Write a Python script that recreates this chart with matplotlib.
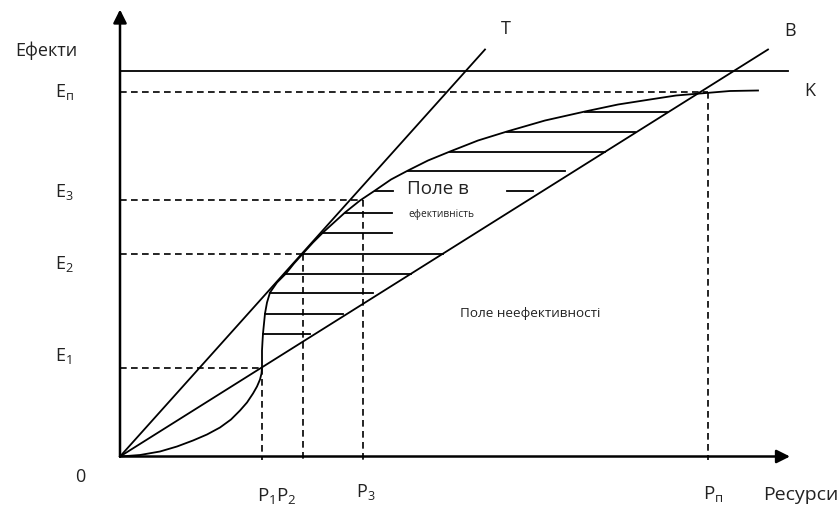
import matplotlib.pyplot as plt
import numpy as np

plt.rcParams['font.family'] = ['Open Sans', 'DejaVu Sans']
plt.rcParams['mathtext.fontset'] = 'custom'
plt.rcParams['mathtext.rm'] = 'Open Sans'

# Крива K (ефект від ресурсів)
k_x = [0, 20, 40, 57, 73, 87, 100, 111, 120, 127, 133, 137, 140, 141.5, 142,
       142, 142, 142.5, 143, 144, 145, 147, 150, 157, 166, 174, 183, 193, 203,
       214, 225, 240, 255, 271, 288, 308, 330, 358, 387, 425, 465, 498, 530,
       556, 580, 610, 638]
k_y = [0, 1.5, 5, 10, 16, 22, 29, 37, 46, 54, 63, 70, 77, 83, 89,
       98, 106, 115, 123, 133, 143, 154, 164, 174, 183, 193, 203, 214, 224,
       234, 244, 256, 266, 277, 286, 296, 305, 316, 325, 336, 345, 352, 357,
       361, 363, 365.5, 366]

# Прямі T і B (кінцеві точки)
t_end = (365, 407)
b_end = (648, 407)
top_level = 386
top_right = 668

# Рівні ефекту та ресурсів
e_levels = [89, 203, 257, 365]
p_levels = [142, 183, 243, 588]

# Штрихування (рівень, правий кінець)
hatch_y = [345, 325, 305, 286, 266, 244, 224, 203, 183, 164, 143, 123]
hatch_right = [547, 515, 485, 445, 273, 272, 272, 323, 291, 253, 223, 190]
extra_hatch = (266, 387, 413)

fig = plt.figure(figsize=(8.4, 5.08), dpi=100)
ax = fig.add_axes([0, 0, 1, 1])
ax.set_xlim(-120, 720)
ax.set_ylim(-51.5, 456.5)
ax.axis("off")

lw = 1.3
dash = (0, (4, 2.6))

# Осі зі стрілками
ax.annotate("", xy=(0, 447), xytext=(0, 0),
            arrowprops=dict(arrowstyle="-|>", lw=1.8, color="black",
                            mutation_scale=20, shrinkA=0, shrinkB=0))
ax.annotate("", xy=(670, 0), xytext=(0, 0),
            arrowprops=dict(arrowstyle="-|>", lw=1.8, color="black",
                            mutation_scale=20, shrinkA=0, shrinkB=0))

# Прямі
ax.plot([0, t_end[0]], [0, t_end[1]], color="black", lw=lw)
ax.plot([0, b_end[0]], [0, b_end[1]], color="black", lw=lw)
ax.plot([0, top_right], [top_level, top_level], color="black", lw=lw)

# Крива K
ax.plot(k_x, k_y, color="black", lw=lw)

# Штрихування
for y, xr in zip(hatch_y, hatch_right):
    xl = np.interp(y, k_y, k_x)
    ax.plot([xl, xr], [y, y], color="black", lw=lw)
ax.plot([extra_hatch[1], extra_hatch[2]], [extra_hatch[0]] * 2,
        color="black", lw=lw)

# Пунктирні лінії
for e, p in zip(e_levels, p_levels):
    ax.plot([0, p], [e, e], color="black", lw=1.2, linestyle=dash)
    ax.plot([p, p], [e, -3], color="black", lw=1.2, linestyle=dash)

# Підписи
tc = "#222222"
ax.text(-74, 406, "Ефекти", fontsize=13, color=tc, ha="center", va="center")
e_names = [r"$\mathregular{E_1}$", r"$\mathregular{E_2}$",
           r"$\mathregular{E_3}$", r"$\mathregular{E_п}$"]
e_text_y = [101, 193, 264, 364]
for name, y in zip(e_names, e_text_y):
    ax.text(-65, y, name, fontsize=13, color=tc, ha="left", va="center")

ax.text(-40, -20, "0", fontsize=13, color=tc, ha="center", va="center")
ax.text(137, -40, r"$\mathregular{P_1P_2}$", fontsize=13.5, color=tc,
        ha="left", va="center")
ax.text(236, -36, r"$\mathregular{P_3}$", fontsize=13, color=tc,
        ha="left", va="center")
ax.text(583, -38, r"$\mathregular{P_п}$", fontsize=13.5, color=tc,
        ha="left", va="center")
ax.text(643, -38, "Ресурси", fontsize=14, color=tc, ha="left", va="center")

ax.text(386, 428, "T", fontsize=13, color=tc, ha="center", va="center")
ax.text(670, 426, "B", fontsize=13, color=tc, ha="center", va="center")
ax.text(690, 366, "K", fontsize=13, color=tc, ha="center", va="center")

ax.text(287, 268, "Поле в", fontsize=13.5, color=tc, ha="left", va="center")
ax.text(288, 242, "ефективність", fontsize=7.3, color=tc, ha="left",
        va="center")
ax.text(340, 143, "Поле неефективності", fontsize=9.7, color=tc, ha="left",
        va="center")

fig.savefig("out.png", dpi=100)
